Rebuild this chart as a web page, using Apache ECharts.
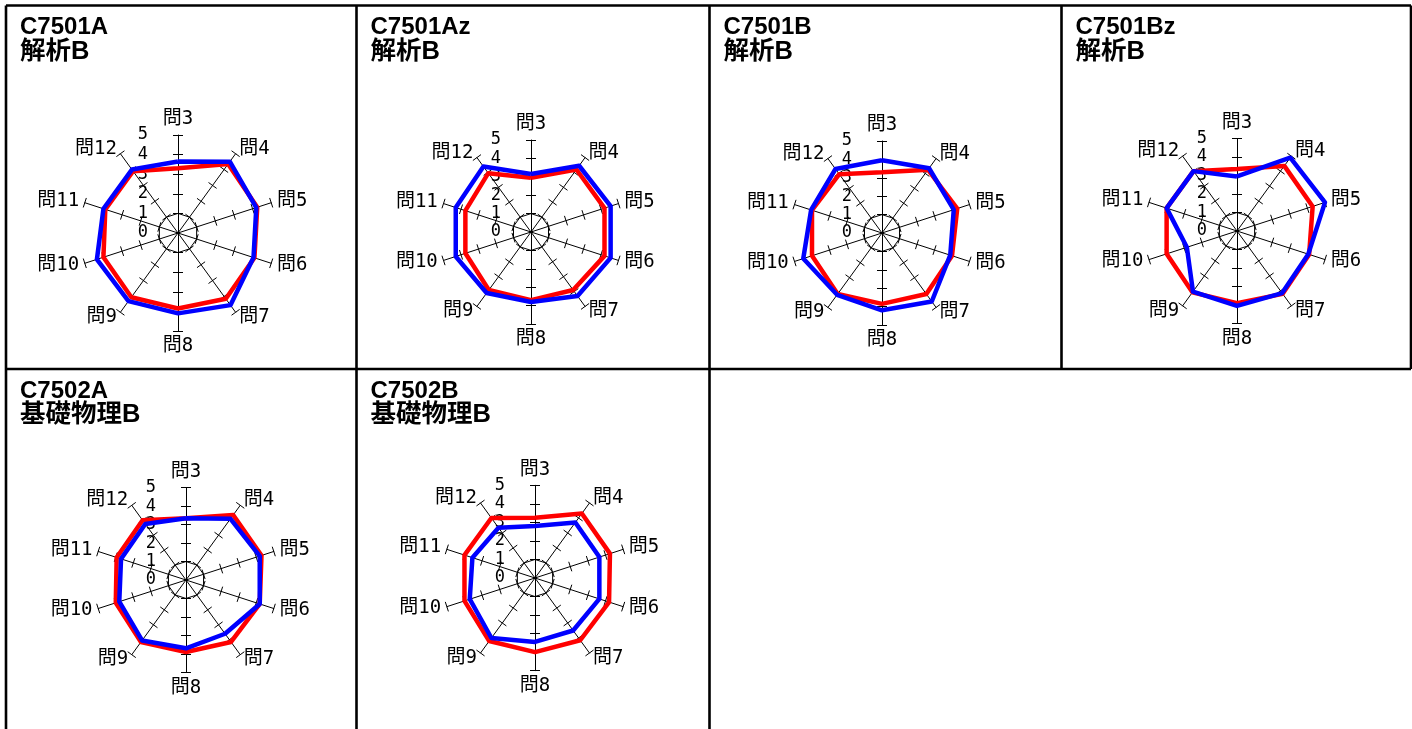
<!DOCTYPE html>
<html>
<head>
<meta charset="utf-8">
<title>問別平均</title>
<script src="https://cdn.jsdelivr.net/npm/echarts@6/dist/echarts.min.js"></script>
<style>
  html, body { margin: 0; padding: 0; background: #fff; }
  #chart { width: 1412px; height: 729px; }
</style>
</head>
<body>
<div id="chart"></div>
<script>
// Question axes, clockwise from the top
const questions = ['問3', '問4', '問5', '問6', '問7', '問8', '問9', '問10', '問11', '問12'];
const scaleMax = 5;
const tickValues = [1, 2, 3, 4, 5];
const innerRingValue = 1;

// Panel headings (course code, subject)
const panelCodes = ['C7501A', 'C7501Az', 'C7501B', 'C7501Bz', 'C7502A', 'C7502B'];
const panelSubjects = ['解析B', '解析B', '解析B', '解析B', '基礎物理B', '基礎物理B'];

// Mean scores per question (問3 .. 問12)
const c7501A_red  = [3.3, 4.35, 4.25, 4.1, 4.15, 3.85, 4.05, 4.0, 3.9, 3.9];
const c7501A_blue = [3.65, 4.5, 4.2, 4.05, 4.55, 4.1, 4.3, 4.35, 4.0, 4.0];

const c7501Az_red  = [2.95, 4.2, 4.2, 4.2, 3.9, 3.7, 3.9, 3.75, 3.75, 3.95];
const c7501Az_blue = [3.15, 4.45, 4.55, 4.55, 4.3, 3.8, 4.1, 4.3, 4.3, 4.4];

const c7501B_red  = [3.3, 4.25, 4.3, 4.0, 4.1, 3.85, 4.1, 4.0, 4.0, 3.95];
const c7501B_blue = [3.95, 4.35, 4.1, 3.9, 4.6, 4.2, 4.15, 4.5, 4.05, 4.3];

const c7501Bz_red  = [3.35, 4.35, 4.3, 4.1, 4.2, 3.9, 4.1, 4.0, 4.0, 4.0];
const c7501Bz_blue = [2.95, 4.9, 5.0, 4.05, 4.15, 4.05, 4.05, 2.85, 4.0, 4.0];

const c7502A_red  = [3.35, 4.35, 4.3, 4.2, 4.15, 3.9, 4.15, 4.0, 3.95, 4.0];
const c7502A_blue = [3.35, 4.1, 4.2, 4.2, 3.6, 3.7, 4.05, 3.8, 3.7, 3.75];

const c7502B_red  = [3.25, 4.3, 4.25, 4.2, 4.15, 4.0, 4.2, 4.0, 4.0, 4.0];
const c7502B_blue = [2.8, 3.7, 3.65, 3.65, 3.5, 3.45, 4.0, 3.7, 3.55, 3.35];

const redSeries  = [c7501A_red, c7501Az_red, c7501B_red, c7501Bz_red, c7502A_red, c7502B_red];
const blueSeries = [c7501A_blue, c7501Az_blue, c7501B_blue, c7501Bz_blue, c7502A_blue, c7502B_blue];

// ---- layout ----
const colX = [6, 356.5, 709.5, 1061.5, 1411];
const rowY = [5.5, 369, 729];
const panelCells = [[0, 0], [1, 0], [2, 0], [3, 0], [0, 1], [1, 1]];
const radarCenters = [[178, 233], [531, 232], [882, 233], [1237, 231], [186, 580], [535, 578]];
const radarRadii = [98, 92, 92, 92.5, 92.3, 92.7];

const titleFont = "'Liberation Sans', 'Noto Sans CJK JP', sans-serif";
const axisFont = "'DejaVu Sans Mono', 'Noto Sans CJK JP', monospace";

// radar lays indicators out counter-clockwise, so walk the questions backwards after the first
const order = [0].concat(questions.map((_, i) => i).slice(1).reverse());
const reorder = arr => order.map(i => arr[i]);
const plainIndicators = max => order.map(qi => ({ name: questions[qi], min: 0, max: max }));

const clear = 'rgba(0,0,0,0)';
const radars = [];
const series = [];
const titles = [];

panelCodes.forEach((code, p) => {
  const [cx, cy] = radarCenters[p];
  const r = radarRadii[p];
  const indicators = order.map((qi, k) => {
    const ind = { name: questions[qi], min: 0, max: scaleMax };
    if (k === 0) ind.axisLabel = { show: true };
    return ind;
  });

  // main radar: axes, ticks on one side, value labels on the first axis, names
  radars.push({
    center: [cx, cy],
    radius: r,
    shape: 'polygon',
    splitNumber: scaleMax,
    indicator: indicators,
    axisName: { show: true, color: '#000', fontSize: 19, fontFamily: axisFont },
    nameGap: 6,
    axisLine: { show: true, lineStyle: { color: '#000', width: 1 } },
    axisTick: { show: true, length: 5, customValues: tickValues, lineStyle: { color: '#000', width: 1 } },
    axisLabel: { show: false, color: '#000', fontSize: 17, fontFamily: axisFont, margin: 30 },
    splitLine: { show: false },
    splitArea: { show: false }
  });
  // companion radar: tick marks on the other side of each axis
  radars.push({
    center: [cx, cy],
    radius: r,
    shape: 'polygon',
    splitNumber: scaleMax,
    indicator: plainIndicators(scaleMax),
    axisName: { show: false },
    axisLine: { show: true, lineStyle: { color: clear, width: 1 } },
    axisTick: { show: true, length: -5, customValues: tickValues, lineStyle: { color: '#000', width: 1 } },
    axisLabel: { show: false },
    splitLine: { show: false },
    splitArea: { show: false }
  });
  // inner grid ring at value 1
  radars.push({
    center: [cx, cy],
    radius: r * innerRingValue / scaleMax,
    shape: 'polygon',
    splitNumber: 1,
    indicator: plainIndicators(innerRingValue),
    axisName: { show: false },
    axisLine: { show: false },
    axisTick: { show: false },
    axisLabel: { show: false },
    splitLine: { show: true, lineStyle: { color: '#000', width: 1, type: 'solid' } },
    splitArea: { show: false }
  });

  series.push({
    type: 'radar',
    radarIndex: p * 3,
    symbol: 'none',
    silent: true,
    data: [
      { value: reorder(redSeries[p]), lineStyle: { color: '#ff0000', width: 4.5 }, itemStyle: { color: '#ff0000' } },
      { value: reorder(blueSeries[p]), lineStyle: { color: '#0000ff', width: 4.5 }, itemStyle: { color: '#0000ff' } }
    ]
  });

  const [ci, ri] = panelCells[p];
  titles.push({
    text: '{code|' + code + '}\n{sub|' + panelSubjects[p] + '}',
    left: colX[ci] + 14,
    top: rowY[ri] + 10,
    padding: 0,
    textStyle: {
      color: '#000',
      fontFamily: titleFont,
      fontWeight: 'bold',
      rich: {
        code: { fontSize: 24, lineHeight: 24, fontWeight: 'bold', fontFamily: titleFont, color: '#000' },
        sub: { fontSize: 25.5, lineHeight: 24, fontWeight: 'bold', fontFamily: titleFont, color: '#000' }
      }
    }
  });
});

// cell frame
const frameSegments = [
  [colX[0], rowY[0], colX[4], rowY[0]],
  [colX[0], rowY[1], colX[4], rowY[1]],
  [colX[0], rowY[0], colX[0], rowY[2]],
  [colX[1], rowY[0], colX[1], rowY[2]],
  [colX[2], rowY[0], colX[2], rowY[2]],
  [colX[3], rowY[0], colX[3], rowY[1]],
  [colX[4], rowY[0], colX[4], rowY[1]]
];
const frame = frameSegments.map(([x1, y1, x2, y2]) => ({
  type: 'line',
  silent: true,
  shape: { x1, y1, x2, y2 },
  style: { stroke: '#000', lineWidth: 2.6 }
}));

const chart = echarts.init(document.getElementById('chart'), null, { renderer: 'canvas' });
chart.setOption({
  animation: false,
  backgroundColor: '#fff',
  title: titles,
  radar: radars,
  series: series,
  graphic: frame
});
</script>
</body>
</html>
